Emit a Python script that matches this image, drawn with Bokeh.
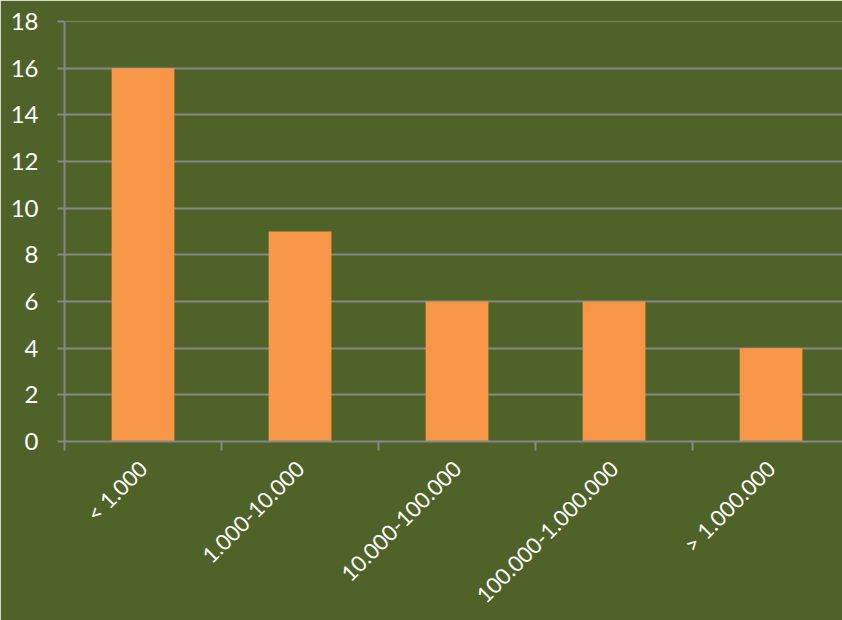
from bokeh.plotting import figure
from bokeh.models import Range1d, FixedTicker, ColumnDataSource
from bokeh.embed import file_html
from bokeh.resources import INLINE
import math

categories = ["< 1.000", "1.000-10.000", "10.000-100.000", "100.000-1.000.000", "> 1.000.000"]
values = [16, 9, 6, 6, 4]
y_ticks = [0, 2, 4, 6, 8, 10, 12, 14, 16, 18]

BG = "#4F6228"
BAR = "#F79646"
GRID = "#878787"
FONT = "Lato"

centers = [i + 0.5 for i in range(len(categories))]
source = ColumnDataSource(dict(x=centers, top=values, cat=categories))

p = figure(width=842, height=620, output_backend="svg", toolbar_location=None,
           x_range=Range1d(0, 4.955), y_range=Range1d(0, 18),
           min_border_left=64, min_border_right=0, min_border_top=21, min_border_bottom=179)
p.background_fill_color = BG
p.border_fill_color = BG
p.outline_line_color = None

p.vbar(x="x", top="top", bottom=0, width=0.4, source=source, fill_color=BAR, line_color=None)

# x axis: labels at centres, tick marks at category boundaries
xt = FixedTicker(ticks=centers, minor_ticks=list(range(len(categories) + 1)))
p.xaxis.ticker = xt
p.xaxis.major_label_overrides = {c: lab for c, lab in zip(centers, categories)}
p.xaxis.major_label_orientation = math.pi / 4
p.xaxis.major_tick_out = 0
p.xaxis.major_tick_in = 0
p.xaxis.minor_tick_out = 9
p.xaxis.minor_tick_in = 0
p.xaxis.minor_tick_line_color = GRID
p.xaxis.minor_tick_line_width = 2
p.xaxis.axis_line_color = GRID
p.xaxis.axis_line_width = 2
p.xaxis.major_label_text_color = "white"
p.xaxis.major_label_text_font = FONT
p.xaxis.major_label_text_font_size = "22px"
p.xaxis.major_label_standoff = 14

# y axis
p.yaxis.ticker = FixedTicker(ticks=y_ticks)
p.yaxis.major_tick_out = 7
p.yaxis.major_tick_in = 0
p.yaxis.minor_tick_line_color = None
p.yaxis.major_tick_line_color = GRID
p.yaxis.major_tick_line_width = 2
p.yaxis.axis_line_color = GRID
p.yaxis.axis_line_width = 2
p.yaxis.major_label_text_color = "white"
p.yaxis.major_label_text_font = FONT
p.yaxis.major_label_text_font_size = "24px"
p.yaxis.major_label_standoff = 19

p.xgrid.grid_line_color = None
p.ygrid.grid_line_color = GRID
p.ygrid.grid_line_width = 2

open("out.html", "w").write(file_html(p, INLINE))
